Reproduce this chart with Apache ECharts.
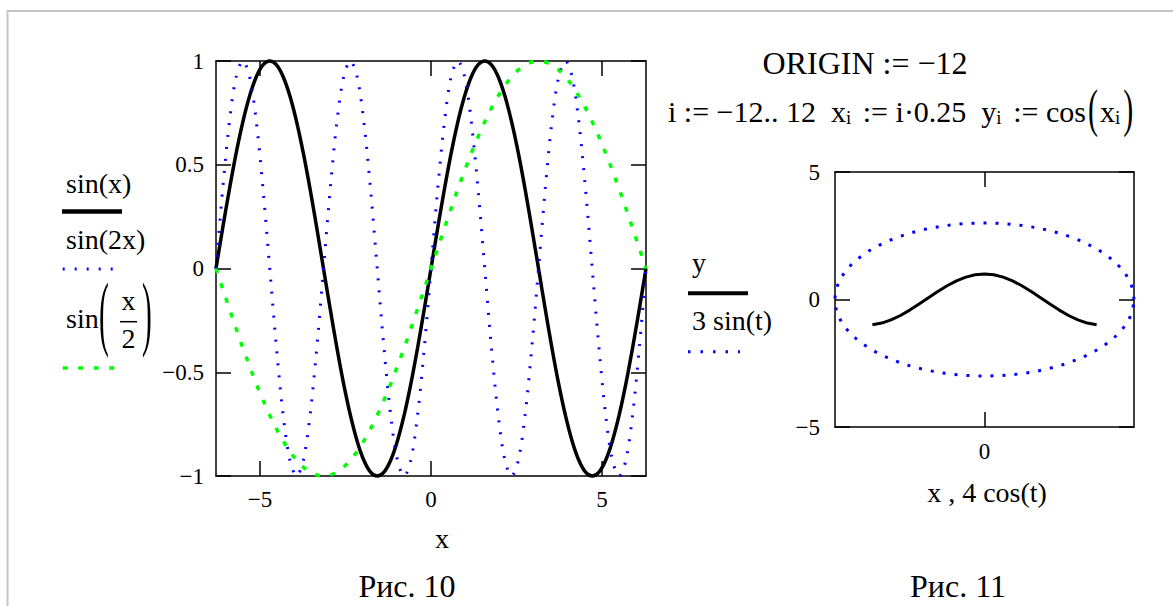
<!DOCTYPE html>
<html><head><meta charset="utf-8">
<script src="https://cdn.jsdelivr.net/npm/echarts@6/dist/echarts.min.js"></script>
<style>html,body{margin:0;padding:0;background:#fff}#c{width:1173px;height:606px}</style>
</head><body><div id="c"></div>
<script>
// ---- data ----
const xs = [-6.283,-6.087,-5.890,-5.694,-5.498,-5.301,-5.105,-4.909,-4.712,-4.516,-4.320,-4.123,-3.927,-3.731,-3.534,-3.338,-3.142,-2.945,-2.749,-2.553,-2.356,-2.160,-1.963,-1.767,-1.571,-1.374,-1.178,-0.982,-0.785,-0.589,-0.393,-0.196,0,0.196,0.393,0.589,0.785,0.982,1.178,1.374,1.571,1.767,1.963,2.160,2.356,2.553,2.749,2.945,3.142,3.338,3.534,3.731,3.927,4.123,4.320,4.516,4.712,4.909,5.105,5.301,5.498,5.694,5.890,6.087,6.283];
const sinX = [0,0.195,0.383,0.556,0.707,0.831,0.924,0.981,1,0.981,0.924,0.831,0.707,0.556,0.383,0.195,0,-0.195,-0.383,-0.556,-0.707,-0.831,-0.924,-0.981,-1,-0.981,-0.924,-0.831,-0.707,-0.556,-0.383,-0.195,
  0,0.195,0.383,0.556,0.707,0.831,0.924,0.981,1,0.981,0.924,0.831,0.707,0.556,0.383,0.195,0,-0.195,-0.383,-0.556,-0.707,-0.831,-0.924,-0.981,-1,-0.981,-0.924,-0.831,-0.707,-0.556,-0.383,-0.195,0];
const sin2X = [0,0.383,0.707,0.924,1,0.924,0.707,0.383,0,-0.383,-0.707,-0.924,-1,-0.924,-0.707,-0.383,
  0,0.383,0.707,0.924,1,0.924,0.707,0.383,0,-0.383,-0.707,-0.924,-1,-0.924,-0.707,-0.383,
  0,0.383,0.707,0.924,1,0.924,0.707,0.383,0,-0.383,-0.707,-0.924,-1,-0.924,-0.707,-0.383,
  0,0.383,0.707,0.924,1,0.924,0.707,0.383,0,-0.383,-0.707,-0.924,-1,-0.924,-0.707,-0.383,0];
const sinHalfX = [0,-0.098,-0.195,-0.290,-0.383,-0.471,-0.556,-0.634,-0.707,-0.773,-0.831,-0.882,-0.924,-0.957,-0.981,-0.995,-1,-0.995,-0.981,-0.957,-0.924,-0.882,-0.831,-0.773,-0.707,-0.634,-0.556,-0.471,-0.383,-0.290,-0.195,-0.098,
  0,0.098,0.195,0.290,0.383,0.471,0.556,0.634,0.707,0.773,0.831,0.882,0.924,0.957,0.981,0.995,1,0.995,0.981,0.957,0.924,0.882,0.831,0.773,0.707,0.634,0.556,0.471,0.383,0.290,0.195,0.098,0];
const xi = [-3,-2.75,-2.5,-2.25,-2,-1.75,-1.5,-1.25,-1,-0.75,-0.5,-0.25,0,0.25,0.5,0.75,1,1.25,1.5,1.75,2,2.25,2.5,2.75,3];
const yi = [-0.990,-0.924,-0.801,-0.628,-0.416,-0.178,0.071,0.315,0.540,0.732,0.878,0.969,1,0.969,0.878,0.732,0.540,0.315,0.071,-0.178,-0.416,-0.628,-0.801,-0.924,-0.990];
const ellX = [4,3.939,3.759,3.464,3.064,2.571,2,1.368,0.695,0,-0.695,-1.368,-2,-2.571,-3.064,-3.464,-3.759,-3.939,-4,-3.939,-3.759,-3.464,-3.064,-2.571,-2,-1.368,-0.695,0,0.695,1.368,2,2.571,3.064,3.464,3.759,3.939,4];
const ellY = [0,0.521,1.026,1.5,1.928,2.298,2.598,2.819,2.954,3,2.954,2.819,2.598,2.298,1.928,1.5,1.026,0.521,0,-0.521,-1.026,-1.5,-1.928,-2.298,-2.598,-2.819,-2.954,-3,-2.954,-2.819,-2.598,-2.298,-1.928,-1.5,-1.026,-0.521,0];
const leftXTicks = [-5, 0, 5];
const rightXTicks = [0];

// ---- helpers ----
const FONT = '"Liberation Serif", "Times New Roman", serif';
const zip = (a, b) => a.map((v, i) => [v, b[i]]);
const minus = v => String(v).replace('-', '\u2212');
const mctx = document.createElement('canvas').getContext('2d');
const tw = (t, size) => { mctx.font = size + 'px ' + FONT; return mctx.measureText(t).width; };

const gfx = [];
function txt(t, x, y, size, align, extra) {
  const el = {type: 'text', x: x, y: y, silent: true,
    style: {text: t, fill: '#000', font: size + 'px ' + FONT,
      textAlign: align || 'left', textVerticalAlign: 'middle', align: align || 'left', verticalAlign: 'middle'}};
  gfx.push(Object.assign(el, extra || {}));
}
function line(x1, y1, x2, y2, color, w, dash) {
  gfx.push({type: 'line', silent: true, shape: {x1, y1, x2, y2},
    style: {stroke: color, lineWidth: w, lineDash: dash || null, lineCap: 'butt'}});
}
function tb(t, x, base, size, align, extra) { txt(t, x, base - 0.3375 * size, size, align, extra); }
function paren(t, cx, cy, size, sy, sx) {
  const w = tw(t, size) * (sx || 1);
  txt(t, cx - w / 2, cy - 0.079 * size * sy, size, 'left', {scaleX: sx || 1, scaleY: sy});
}
function row(x0, base, pieces) {
  let x = x0;
  for (const p of pieces) {
    const w = tw(p.t, p.size);
    if (p.sy) paren(p.t, x + w / 2, p.cy, p.size, p.sy);
    else tb(p.t, x, base + (p.dy || 0), p.size);
    x += w + (p.gap || 0);
  }
  return x;
}

// frame
line(7, 11, 1173, 11, '#c4c4c4', 2);
line(7.5, 10, 7.5, 606, '#c4c4c4', 2);

// equations
tb('ORIGIN := \u221212', 865, 73.5, 32, 'center');
const M = 30, S = 19;
row(668, 121.7, [
  {t: 'i := \u221212.. 12  x', size: M},
  {t: 'i', size: S, dy: 2.5, gap: 4},
  {t: ' := i\u00b70.25  y', size: M},
  {t: 'i', size: S, dy: 2.5, gap: 4},
  {t: ' := cos', size: M, gap: 2},
  {t: '(', size: M, sy: 1.75, cy: 112.5, gap: 2},
  {t: 'x', size: M},
  {t: 'i', size: S, dy: 2.5, gap: 3},
  {t: ')', size: M, sy: 1.75, cy: 112.5}
]);

// left legend
const LF = 28;
tb('sin(x)', 66, 193, LF);
line(62, 211.5, 122, 211.5, '#000', 4.5);
tb('sin(2x)', 66, 249, LF);
line(62.7, 269, 113, 269, '#0000ff', 3, [2, 10]);
tb('sin', 66, 328, LF);
paren('(', 104, 319, LF, 2.95, 1.05);
tb('x', 128.5, 310, LF, 'center');
line(120, 321.7, 137, 321.7, '#000', 1.5);
tb('2', 128.5, 348, LF, 'center');
paren(')', 147, 319, LF, 2.95, 1.05);
line(62.7, 368, 115, 368, '#00ff00', 3.5, [5, 10.5]);

// right legend
tb('y', 692, 272, LF);
line(688, 293.3, 748, 293.3, '#000', 4);
tb('3 sin(t)', 692, 330, LF);
line(688, 351.7, 740, 351.7, '#0000ff', 3, [2.5, 10]);

// axis titles and captions
tb('x', 442, 548, LF, 'center');
tb('x , 4 cos(t)', 987, 502, LF, 'center');
tb('\u0420\u0438\u0441. 10', 407, 597, 32, 'center');
tb('\u0420\u0438\u0441. 11', 958, 597, 32, 'center');

// ---- axes ----
const tickStyle = {color: '#000', width: 1.5};
function xAx(grid, pos, min, max, ticks, showLabels, margin) {
  return {type: 'value', gridIndex: grid, position: pos, min: min, max: max,
    axisLine: {show: true, onZero: false, lineStyle: {color: '#000', width: 1.5}},
    axisTick: {show: true, inside: true, length: 15, customValues: ticks, lineStyle: tickStyle},
    axisLabel: showLabels ? {show: true, customValues: ticks, formatter: minus, color: '#000',
      fontFamily: FONT, fontSize: 23, margin: margin} : {show: false},
    splitLine: {show: false}};
}
function yAx(grid, pos, min, max, interval, showLabels, margin) {
  return {type: 'value', gridIndex: grid, position: pos, min: min, max: max, interval: interval,
    axisLine: {show: true, onZero: false, lineStyle: {color: '#000', width: 1.5}},
    axisTick: {show: true, inside: true, length: 15, lineStyle: tickStyle},
    axisLabel: showLabels ? {show: true, formatter: minus, color: '#000', fontFamily: FONT, fontSize: 23,
      margin: margin, padding: [8, 0, 0, 0]} : {show: false},
    splitLine: {show: false}};
}

const chart = echarts.init(document.getElementById('c'), null, {renderer: 'svg'});
chart.setOption({
  animation: false,
  backgroundColor: '#fff',
  grid: [
    {left: 216, top: 61, width: 430, height: 415, containLabel: false, outerBoundsMode: 'none'},
    {left: 835, top: 172, width: 299, height: 255, containLabel: false, outerBoundsMode: 'none'}
  ],
  xAxis: [
    xAx(0, 'bottom', -6.283, 6.283, leftXTicks, true, 12),
    xAx(0, 'top', -6.283, 6.283, leftXTicks, false, 0),
    xAx(1, 'bottom', -4, 4, rightXTicks, true, 13),
    xAx(1, 'top', -4, 4, rightXTicks, false, 0)
  ],
  yAxis: [
    yAx(0, 'left', -1, 1, 0.5, true, 12),
    yAx(0, 'right', -1, 1, 0.5, false, 0),
    yAx(1, 'left', -5, 5, 5, true, 15),
    yAx(1, 'right', -5, 5, 5, false, 0)
  ],
  series: [
    {type: 'line', xAxisIndex: 0, yAxisIndex: 0, data: zip(xs, sinX), smooth: 0.33, symbol: 'none',
      clip: false, silent: true, lineStyle: {color: '#000', width: 3.5}},
    {type: 'line', xAxisIndex: 0, yAxisIndex: 0, data: zip(xs, sin2X), smooth: 0.33, symbol: 'none',
      clip: false, silent: true, lineStyle: {color: '#0000ff', width: 3, type: [2, 10], cap: 'butt'}},
    {type: 'line', xAxisIndex: 0, yAxisIndex: 0, data: zip(xs, sinHalfX), smooth: 0.33, symbol: 'none',
      clip: false, silent: true, lineStyle: {color: '#00ff00', width: 3.5, type: [5, 10.5], cap: 'butt'}},
    {type: 'line', xAxisIndex: 2, yAxisIndex: 2, data: zip(xi, yi), smooth: false, symbol: 'none',
      clip: false, silent: true, lineStyle: {color: '#000', width: 3}},
    {type: 'line', xAxisIndex: 2, yAxisIndex: 2, data: zip(ellX, ellY), smooth: 0.33, symbol: 'none',
      clip: false, silent: true, lineStyle: {color: '#0000ff', width: 3, type: [3, 9], cap: 'butt'}}
  ],
  graphic: {elements: gfx}
});
</script>
</body></html>
